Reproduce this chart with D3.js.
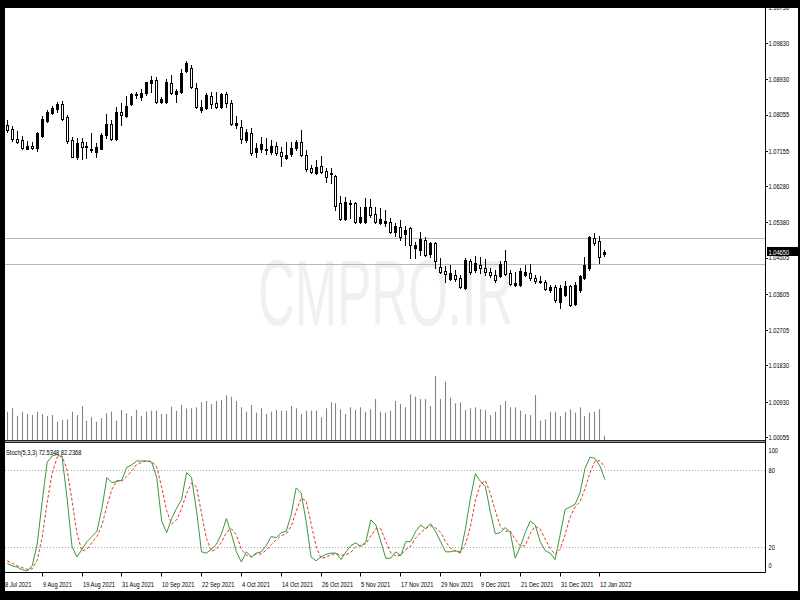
<!DOCTYPE html>
<html><head><meta charset="utf-8">
<script src="https://cdn.jsdelivr.net/npm/d3@7"></script>
<style>html,body{margin:0;padding:0;background:#000;}svg{display:block;}</style>
</head><body>
<svg id="c" width="800" height="600"></svg>
<script>
// ---------- DATA ----------
const opens = [
1.0780,1.0770,1.0746,1.0742,1.0721,1.0728,1.0722,1.0752,1.0790,1.0809,
1.0819,1.0832,1.0799,1.0742,1.0701,1.0737,1.0728,1.0718,1.0713,1.0721,
1.0755,1.0782,1.0744,1.0812,1.0803,1.0832,1.0856,1.0848,1.0858,1.0885,
1.0890,1.0836,1.0836,1.0883,1.0856,1.0862,1.0914,1.0920,1.0871,1.0817,
1.0822,1.0852,1.0833,1.0824,1.0856,1.0833,1.0780,1.0774,1.0743,1.0760,
1.0713,1.0719,1.0721,1.0712,1.0728,1.0713,1.0697,1.0708,1.0722,1.0737,
1.0705,1.0674,1.0660,1.0678,1.0666,1.0661,1.0653,1.0585,1.0546,1.0587,
1.0585,1.0540,1.0540,1.0577,1.0559,1.0537,1.0537,1.0540,1.0514,1.0527,
1.0509,1.0523,1.0474,1.0470,1.0494,1.0460,1.0488,1.0428,1.0418,1.0397,
1.0408,1.0399,1.0375,1.0441,1.0420,1.0432,1.0424,1.0416,1.0408,1.0405,
1.0441,1.0412,1.0383,1.0383,1.0408,1.0413,1.0399,1.0389,1.0391,1.0370,
1.0377,1.0341,1.0358,1.0380,1.0336,1.0370,1.0399,1.0424,1.0499,1.0493,
1.0459];
const highs = [
1.0792,1.0777,1.0765,1.0752,1.0741,1.0738,1.0763,1.0802,1.0817,1.0827,
1.0837,1.0840,1.0804,1.0749,1.0747,1.0747,1.0738,1.0759,1.0734,1.0759,
1.0807,1.0792,1.0825,1.0835,1.0852,1.0860,1.0862,1.0868,1.0887,1.0901,
1.0898,1.0850,1.0893,1.0904,1.0868,1.0918,1.0939,1.0928,1.0883,1.0842,
1.0858,1.0862,1.0862,1.0860,1.0862,1.0842,1.0802,1.0792,1.0769,1.0771,
1.0736,1.0751,1.0747,1.0742,1.0738,1.0726,1.0738,1.0738,1.0742,1.0767,
1.0718,1.0680,1.0693,1.0703,1.0672,1.0672,1.0656,1.0604,1.0602,1.0594,
1.0589,1.0577,1.0598,1.0595,1.0577,1.0573,1.0569,1.0549,1.0537,1.0544,
1.0529,1.0527,1.0490,1.0513,1.0501,1.0490,1.0490,1.0449,1.0430,1.0432,
1.0420,1.0408,1.0449,1.0447,1.0455,1.0453,1.0447,1.0424,1.0420,1.0443,
1.0470,1.0420,1.0416,1.0424,1.0432,1.0435,1.0408,1.0405,1.0395,1.0383,
1.0383,1.0383,1.0393,1.0383,1.0391,1.0408,1.0452,1.0503,1.0511,1.0504,
1.0470];
const lows = [
1.0763,1.0741,1.0736,1.0719,1.0719,1.0719,1.0716,1.0751,1.0788,1.0807,
1.0813,1.0792,1.0736,1.0700,1.0695,1.0695,1.0697,1.0713,1.0700,1.0719,
1.0747,1.0742,1.0742,1.0780,1.0800,1.0829,1.0846,1.0842,1.0854,1.0862,
1.0833,1.0833,1.0833,1.0856,1.0837,1.0860,1.0912,1.0871,1.0821,1.0813,
1.0819,1.0821,1.0821,1.0821,1.0825,1.0780,1.0771,1.0734,1.0738,1.0705,
1.0700,1.0713,1.0708,1.0708,1.0705,1.0678,1.0695,1.0703,1.0718,1.0703,
1.0666,1.0661,1.0658,1.0660,1.0637,1.0635,1.0569,1.0544,1.0544,1.0548,
1.0537,1.0536,1.0537,1.0552,1.0537,1.0534,1.0529,1.0512,1.0504,1.0494,
1.0482,1.0450,1.0449,1.0457,1.0455,1.0453,1.0424,1.0413,1.0391,1.0395,
1.0393,1.0375,1.0372,1.0410,1.0416,1.0412,1.0408,1.0402,1.0389,1.0402,
1.0408,1.0382,1.0380,1.0380,1.0405,1.0395,1.0387,1.0387,1.0369,1.0366,
1.0341,1.0325,1.0356,1.0331,1.0333,1.0366,1.0397,1.0420,1.0482,1.0437,
1.0455];
const closes = [
1.0767,1.0744,1.0738,1.0722,1.0728,1.0723,1.0760,1.0794,1.0813,1.0822,
1.0831,1.0794,1.0741,1.0701,1.0736,1.0724,1.0726,1.0721,1.0724,1.0755,
1.0782,1.0744,1.0812,1.0805,1.0827,1.0856,1.0853,1.0858,1.0886,1.0891,
1.0836,1.0845,1.0887,1.0860,1.0865,1.0909,1.0933,1.0873,1.0824,1.0824,
1.0854,1.0832,1.0824,1.0856,1.0833,1.0782,1.0785,1.0744,1.0763,1.0709,
1.0722,1.0732,1.0718,1.0728,1.0709,1.0703,1.0705,1.0723,1.0737,1.0705,
1.0670,1.0664,1.0676,1.0664,1.0651,1.0658,1.0579,1.0546,1.0589,1.0584,
1.0540,1.0552,1.0577,1.0556,1.0540,1.0546,1.0542,1.0514,1.0528,1.0502,
1.0519,1.0482,1.0482,1.0496,1.0457,1.0486,1.0443,1.0416,1.0410,1.0413,
1.0397,1.0377,1.0445,1.0416,1.0438,1.0424,1.0416,1.0408,1.0395,1.0435,
1.0410,1.0385,1.0387,1.0418,1.0416,1.0399,1.0393,1.0393,1.0372,1.0377,
1.0346,1.0375,1.0380,1.0333,1.0383,1.0405,1.0432,1.0501,1.0488,1.0453,
1.0465];
const volumes = [
7080,7930,6000,7080,6500,6250,7080,6500,6000,6250,
4580,5000,5180,7080,6250,8500,4830,5680,4580,5430,
6680,7080,4830,7500,6680,6000,7500,6000,7080,7330,
7330,6500,6500,8330,7330,8750,7930,7930,8180,9430,
9750,9000,9750,10000,11180,10830,9750,8180,7080,8750,
6830,7930,6500,7080,7500,7330,7330,8500,7930,6500,
7330,7330,7330,5680,7930,9430,9180,7680,6500,8180,
7500,8180,7080,7680,10250,7080,6830,7330,9750,9000,
8180,11430,10830,10250,10250,8500,16000,10250,14580,10580,
9180,9430,7500,7930,8180,7680,7500,6250,7080,8750,
9750,8180,8180,7330,6500,6250,11250,4830,5180,7080,
7080,6000,7080,7680,6830,8180,6000,6830,7080,7680,
1080];
const stochK = [
7,5,4,2,1,5,22,55,86,91,
92,90,58,20,12,18,24,28,32,50,
74,70,71,72,82,84,87,87,87,86,
74,40,31,42,50,57,78,74,48,16,
15,18,22,30,42,30,16,8,16,12,
15,16,21,28,27,31,32,45,66,62,
40,12,9,12,14,15,15,10,16,21,
23,20,24,41,37,24,11,11,16,13,
24,24,32,37,34,38,32,24,16,16,
17,15,34,58,77,71,67,47,30,31,
35,31,11,20,31,40,37,24,17,15,
10,29,49,51,53,62,81,90,89,83,
72.5348];
const stochD = [
9,7,5,3.7,2.3,2.7,9.3,27.3,54.3,77.3,
89.7,91,80,56,30,16.7,18,23.3,28,36.7,
52,64.7,71.7,71,75,79.3,84.3,86,87,86.7,
82.3,66.7,48.3,37.7,41,49.7,61.7,69.7,66.7,46,
26.3,16.3,18.3,23.3,31.3,34,29.3,18,13.3,12,
14.3,14.3,17.3,21.7,25.3,28.7,30,36,47.7,57.7,
56,38,20.3,11,11.7,13.7,14.7,13.3,13.7,15.7,
20,21.3,22.3,28.3,34,34,24,15.3,12.7,13.3,
17.7,20.3,26.7,31,34.3,36.3,34.7,31.3,24,18.7,
16.3,16,22,35.7,56.3,68.7,71.7,61.7,48,36,
32,32.3,25.7,20.7,20.7,30.3,36,33.7,26,18.7,
14,18,29.3,43,51,55.3,65.3,77.7,86.7,87.3,
82.2368];
const priceTicks = [1.10730,1.09830,1.08930,1.08055,1.07155,1.06280,1.05380,1.04505,1.03605,1.02705,1.01830,1.00930,1.00055];
const stochTicks = [100,80,20,0];
const stochLevels = [80,20];
const dateTickIndex = [7,15,23,31,39,47,55,63,71,79,87,95,103,111,119];
const dateTickLabels = ["9 Aug 2021","19 Aug 2021","31 Aug 2021","10 Sep 2021","22 Sep 2021","4 Oct 2021","14 Oct 2021","26 Oct 2021","5 Nov 2021","17 Nov 2021","29 Nov 2021","9 Dec 2021","21 Dec 2021","31 Dec 2021","12 Jan 2022"];
const firstDateLabel = "8 Jul 2021";
const horizontalLines = [1.0499,1.0434];
const lastPrice = 1.04650;
const stochTitle = "Stoch(5,3,3) 72.5348 82.2368";
const watermarkText = "CMPRO.IR";

// ---------- LAYOUT ----------
const svg = d3.select("#c");
const L = 5, R = 765.5, mainTop = 8, mainBot = 440, stTop = 444, stBot = 572.5;
const FONT = "'Liberation Sans', Arial, sans-serif";
const FS = 7.5;   // small label font size
const SQ = 0.76;  // horizontal squeeze of small labels

const x = d3.scaleLinear().domain([0, 120]).range([7.3, 604.9]);
const y = d3.scaleLinear().domain([1.00055, 1.09830]).range([437, 43]);
const yVol = d3.scaleLinear().domain([0, 25000]).range([440, 340]);
const yS = d3.scaleLinear().domain([0, 100]).range([572.3, 444.3]);

function squeeze(sel, f) {
  sel.each(function () {
    const len = this.getComputedTextLength();
    this.setAttribute("textLength", (len * f).toFixed(2));
    this.setAttribute("lengthAdjust", "spacingAndGlyphs");
  });
}

// background
svg.append("rect").attr("x", 0).attr("y", 0).attr("width", 800).attr("height", 600).attr("fill", "#fff");

// watermark
svg.append("text").attr("x", 258).attr("y", 325)
  .attr("font-family", FONT).attr("font-size", 92).attr("fill", "#f0f0f0")
  .attr("textLength", 255).attr("lengthAdjust", "spacingAndGlyphs")
  .text(watermarkText);

// horizontal lines
svg.append("g").selectAll("line").data(horizontalLines).join("line")
  .attr("x1", L).attr("x2", R)
  .attr("y1", d => Math.round(y(d)) + 0.5).attr("y2", d => Math.round(y(d)) + 0.5)
  .attr("stroke", "#b8b8b8").attr("stroke-width", 1);

// volumes
const idx = d3.range(opens.length);
svg.append("g").selectAll("line").data(idx).join("line")
  .attr("x1", i => Math.floor(x(i)) + 0.5).attr("x2", i => Math.floor(x(i)) + 0.5)
  .attr("y1", yVol(0)).attr("y2", i => yVol(volumes[i]))
  .attr("stroke", "#858585").attr("stroke-width", 1.1);

// candles
const gC = svg.append("g");
idx.forEach(i => {
  const cx = Math.floor(x(i));
  gC.append("line").attr("x1", cx + 0.5).attr("x2", cx + 0.5)
    .attr("y1", Math.round(y(highs[i]))).attr("y2", Math.round(y(lows[i])) + 1)
    .attr("stroke", "#000").attr("stroke-width", 1);
  const t = Math.round(Math.min(y(opens[i]), y(closes[i])));
  const b = Math.round(Math.max(y(opens[i]), y(closes[i])));
  const bull = closes[i] > opens[i];
  gC.append("rect").attr("x", cx - 0.5).attr("y", t + 0.5)
    .attr("width", 2).attr("height", Math.max(b - t, 0))
    .attr("fill", bull ? "#000" : "#fff").attr("stroke", "#000").attr("stroke-width", 1);
});

// separator between panels
svg.append("line").attr("x1", L).attr("x2", R).attr("y1", 440.5).attr("y2", 440.5).attr("stroke", "#222");
svg.append("line").attr("x1", L).attr("x2", R).attr("y1", 441.5).attr("y2", 441.5).attr("stroke", "#999");
svg.append("line").attr("x1", L).attr("x2", R).attr("y1", 442.5).attr("y2", 442.5).attr("stroke", "#222");

// stoch levels
svg.append("g").selectAll("line").data(stochLevels).join("line")
  .attr("x1", L).attr("x2", R)
  .attr("y1", d => Math.round(yS(d)) + 0.5).attr("y2", d => Math.round(yS(d)) + 0.5)
  .attr("stroke", "#a8a8a8").attr("stroke-width", 1).attr("stroke-dasharray", "1,2");

// stoch lines
const line = d3.line().x((d, i) => x(i)).y(d => yS(d));
svg.append("path").datum(stochD).attr("d", line).attr("fill", "none")
  .attr("stroke", "#e8362e").attr("stroke-width", 1).attr("stroke-dasharray", "3,2");
svg.append("path").datum(stochK).attr("d", line).attr("fill", "none")
  .attr("stroke", "#3a983a").attr("stroke-width", 1);

// stoch title
svg.append("text").attr("x", 6).attr("y", 455).attr("font-family", FONT).attr("font-size", FS)
  .attr("fill", "#000").text(stochTitle).call(squeeze, SQ);

// axes frame
svg.append("line").attr("x1", R).attr("x2", R).attr("y1", mainTop).attr("y2", stBot).attr("stroke", "#000");
svg.append("line").attr("x1", L).attr("x2", R).attr("y1", stBot).attr("y2", stBot).attr("stroke", "#000");

// price axis
const gP = svg.append("g");
gP.selectAll("line").data(priceTicks).join("line")
  .attr("x1", R).attr("x2", R + 2.5)
  .attr("y1", d => Math.round(y(d)) + 0.5).attr("y2", d => Math.round(y(d)) + 0.5)
  .attr("stroke", "#000");
gP.selectAll("text").data(priceTicks).join("text")
  .attr("x", R + 3).attr("y", d => y(d) + 2.8)
  .attr("font-family", FONT).attr("font-size", FS).attr("fill", "#000")
  .text(d => d.toFixed(5)).call(squeeze, SQ);

// last price marker
svg.append("rect").attr("x", 767).attr("y", y(lastPrice) - 4.8).attr("width", 32).attr("height", 9).attr("fill", "#000");
svg.append("text").attr("x", R + 3).attr("y", y(lastPrice) + 2.8)
  .attr("font-family", FONT).attr("font-size", FS).attr("fill", "#fff")
  .text(lastPrice.toFixed(5)).call(squeeze, SQ);

// stoch axis
const gS = svg.append("g");
gS.selectAll("text").data(stochTicks).join("text")
  .attr("x", R + 3)
  .attr("y", d => d === 100 ? yS(d) + 9 : d === 0 ? yS(d) - 4 : yS(d) + 2.8)
  .attr("font-family", FONT).attr("font-size", FS).attr("fill", "#000")
  .text(d => d).call(squeeze, SQ);

// time axis
const gT = svg.append("g");
gT.selectAll("line").data(dateTickIndex).join("line")
  .attr("x1", i => Math.floor(x(i)) + 0.5).attr("x2", i => Math.floor(x(i)) + 0.5)
  .attr("y1", stBot).attr("y2", stBot + 4).attr("stroke", "#000");
gT.selectAll("text").data(dateTickIndex).join("text")
  .attr("x", i => Math.floor(x(i)) + 1).attr("y", 587)
  .attr("font-family", FONT).attr("font-size", FS).attr("fill", "#000")
  .text((d, k) => dateTickLabels[k]).call(squeeze, SQ);
svg.append("text").attr("x", 5).attr("y", 587)
  .attr("font-family", FONT).attr("font-size", FS).attr("fill", "#000")
  .text(firstDateLabel).call(squeeze, SQ);

// outer black frame
svg.append("rect").attr("x", 0).attr("y", 0).attr("width", 800).attr("height", 8).attr("fill", "#000");
svg.append("rect").attr("x", 0).attr("y", 591).attr("width", 800).attr("height", 9).attr("fill", "#000");
svg.append("rect").attr("x", 0).attr("y", 0).attr("width", 5).attr("height", 600).attr("fill", "#000");
svg.append("rect").attr("x", 798).attr("y", 0).attr("width", 2).attr("height", 600).attr("fill", "#000");
</script>
</body></html>
